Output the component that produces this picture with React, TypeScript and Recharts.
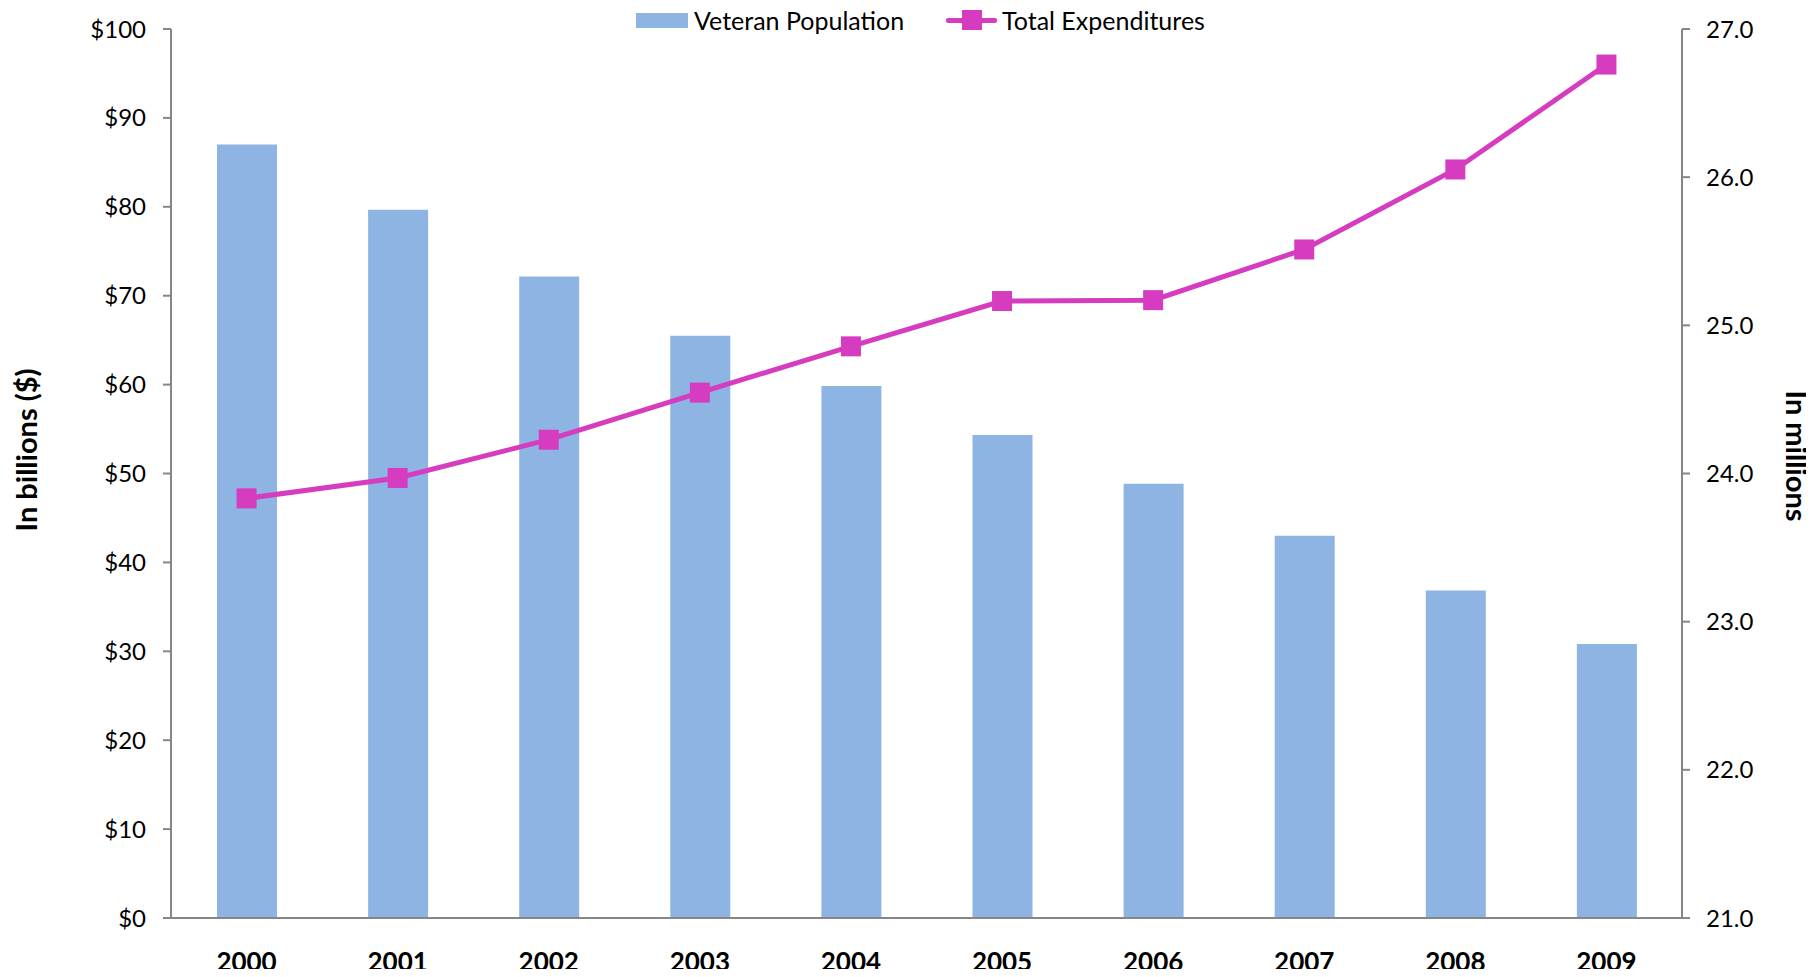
import { ComposedChart, Bar, Line, XAxis, YAxis } from 'recharts'

const years = ['2000', '2001', '2002', '2003', '2004', '2005', '2006', '2007', '2008', '2009']
// veteran population, in millions (right axis)
const veteranPopulation = [26.22, 25.78, 25.33, 24.93, 24.59, 24.26, 23.93, 23.58, 23.21, 22.85]
// total expenditures, in billions of dollars (left axis)
const totalExpenditures = [47.2, 49.5, 53.8, 59.1, 64.3, 69.4, 69.5, 75.2, 84.2, 96.0]
const billionTicks = [0, 10, 20, 30, 40, 50, 60, 70, 80, 90, 100]
const millionTicks = [21, 22, 23, 24, 25, 26, 27]

const data = years.map((year, i) => ({
  year,
  population: veteranPopulation[i],
  expenditures: totalExpenditures[i],
}))

const FONT = 'Lato, "Open Sans", sans-serif'
const BAR = '#8EB4E3'
const LINE = '#D63CBF'
const AXIS = '#868686'

function SquareDot(props: any) {
  const { cx, cy } = props
  if (cx == null || cy == null) return null
  return <rect x={cx - 10} y={cy - 10} width={20} height={20} fill={LINE} />
}

function AxisTitle({ x, y, angle, text }: { x: number; y: number; angle: number; text: string }) {
  return (
    <text
      x={x}
      y={y}
      transform={`rotate(${angle}, ${x}, ${y})`}
      textAnchor="middle"
      dominantBaseline="central"
      fontFamily={FONT}
      fontWeight="bold"
      fontSize={29}
      fill="#000"
    >
      {text}
    </text>
  )
}

export default function App() {
  // negative margin cancels the body margin so the chart uses the whole page
  return (
    <div style={{ position: 'relative', margin: -8, width: 1814, height: 977, fontFamily: FONT }}>
      <div style={{ position: 'absolute', left: 636, top: 7, height: 26, display: 'flex', alignItems: 'center', fontSize: 25 }}>
        <div style={{ width: 52, height: 15, background: BAR, marginRight: 6 }} />
        <span>Veteran Population</span>
      </div>
      <div style={{ position: 'absolute', left: 946, top: 7, height: 26, display: 'flex', alignItems: 'center', fontSize: 25 }}>
        <div style={{ position: 'relative', width: 51, height: 20, marginRight: 5 }}>
          <div style={{ position: 'absolute', left: 0, top: 8, width: 51, height: 5, background: LINE, borderRadius: 2 }} />
          <div style={{ position: 'absolute', left: 16, top: 0, width: 20, height: 20, background: LINE }} />
        </div>
        <span>Total Expenditures</span>
      </div>
      <ComposedChart
        width={1814}
        height={977}
        data={data}
        margin={{ top: 29, right: 0, bottom: 0, left: 0 }}
      >
        <XAxis
          dataKey="year"
          height={59}
          tickSize={0}
          tickMargin={35}
          tickLine={false}
          axisLine={{ stroke: AXIS, strokeWidth: 2 }}
          tick={{ fill: '#000', fontSize: 26, fontWeight: 'bold', fontFamily: FONT }}
        />
        <YAxis
          yAxisId="left"
          width={171}
          domain={[0, 100]}
          ticks={billionTicks}
          interval={0}
          tickSize={8}
          tickMargin={17}
          tickFormatter={(v) => `$${v}`}
          axisLine={{ stroke: AXIS, strokeWidth: 2 }}
          tickLine={{ stroke: AXIS, strokeWidth: 2 }}
          tick={{ fill: '#000', fontSize: 24, fontFamily: FONT }}
          label={{
            content: (p: any) => (
              <AxisTitle x={p.viewBox.x + 25} y={450} angle={-90} text="In billions ($)" />
            ),
          }}
        />
        <YAxis
          yAxisId="right"
          orientation="right"
          width={132}
          domain={[21, 27]}
          ticks={millionTicks}
          interval={0}
          tickSize={8}
          tickMargin={16}
          tickFormatter={(v) => Number(v).toFixed(1)}
          axisLine={{ stroke: AXIS, strokeWidth: 2 }}
          tickLine={{ stroke: AXIS, strokeWidth: 2 }}
          tick={{ fill: '#000', fontSize: 24, fontFamily: FONT }}
          label={{
            content: (p: any) => (
              <AxisTitle x={p.viewBox.x + 115} y={456} angle={90} text="In millions" />
            ),
          }}
        />
        <Bar
          yAxisId="right"
          dataKey="population"
          fill={BAR}
          barSize={60}
          isAnimationActive={false}
        />
        <Line
          yAxisId="left"
          dataKey="expenditures"
          type="linear"
          stroke={LINE}
          strokeWidth={5}
          dot={<SquareDot />}
          activeDot={false}
          isAnimationActive={false}
        />
      </ComposedChart>
    </div>
  )
}
